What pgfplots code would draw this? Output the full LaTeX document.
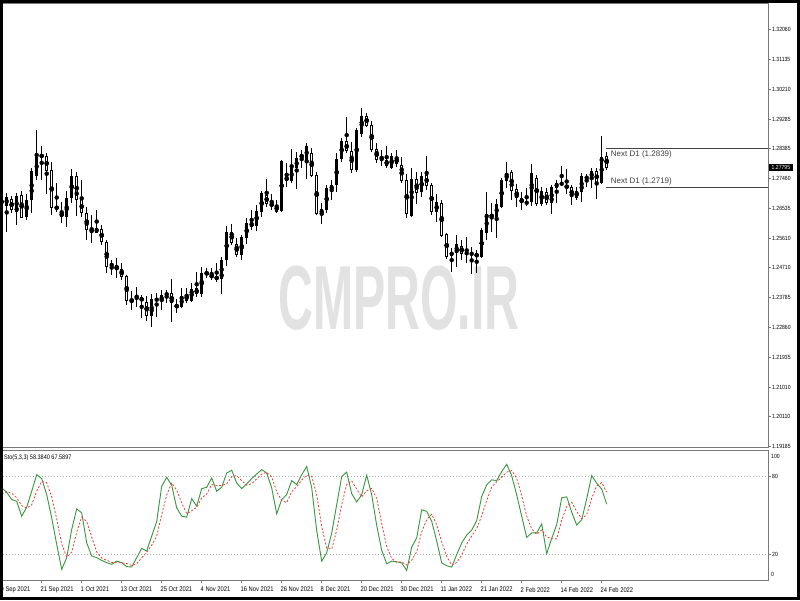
\documentclass[border=0pt]{standalone}
\usepackage{fontspec}
\setmainfont{Liberation Sans}
\newfontfamily\condfont{Liberation Sans}[FakeStretch=0.85]
\usepackage{graphicx}
\usepackage{pgfplots}
\usepackage{pgfplotstable}
\pgfplotsset{compat=1.18}

\definecolor{stogreen}{RGB}{56,150,60}
\definecolor{stored}{RGB}{232,60,60}
\definecolor{axgray}{RGB}{120,120,120}
\definecolor{lvlgray}{RGB}{175,175,175}
\definecolor{wmgray}{RGB}{226,226,226}

\pgfplotstableread{
k o h l c
0 1.2659 1.2695 1.2654 1.2687
1 1.2661 1.2700 1.2582 1.2690
2 1.2683 1.2693 1.2638 1.2647
3 1.2643 1.2700 1.2602 1.2693
4 1.2696 1.2708 1.2623 1.2625
5 1.2626 1.2698 1.2618 1.2681
6 1.2679 1.2777 1.2638 1.2770
7 1.2753 1.2895 1.2741 1.2813
8 1.2820 1.2847 1.2741 1.2811
9 1.2815 1.2823 1.2698 1.2770
10 1.2772 1.2796 1.2633 1.2654
11 1.2657 1.2731 1.2643 1.2654
12 1.2643 1.2674 1.2609 1.2626
13 1.2627 1.2708 1.2595 1.2687
14 1.2685 1.2774 1.2669 1.2753
15 1.2753 1.2767 1.2631 1.2679
16 1.2681 1.2741 1.2628 1.2638
17 1.2638 1.2657 1.2556 1.2587
18 1.2590 1.2633 1.2546 1.2579
19 1.2579 1.2649 1.2577 1.2593
20 1.2590 1.2602 1.2541 1.2551
21 1.2551 1.2556 1.2453 1.2474
22 1.2474 1.2494 1.2448 1.2484
23 1.2480 1.2500 1.2438 1.2463
24 1.2466 1.2484 1.2433 1.2443
25 1.2445 1.2448 1.2356 1.2369
26 1.2373 1.2400 1.2340 1.2364
27 1.2376 1.2412 1.2350 1.2379
28 1.2379 1.2386 1.2314 1.2367
29 1.2366 1.2383 1.2307 1.2320
30 1.2320 1.2389 1.2289 1.2373
31 1.2371 1.2394 1.2320 1.2373
32 1.2367 1.2402 1.2340 1.2386
33 1.2386 1.2402 1.2361 1.2392
34 1.2392 1.2435 1.2303 1.2361
35 1.2359 1.2373 1.2330 1.2345
36 1.2348 1.2409 1.2345 1.2384
37 1.2389 1.2407 1.2361 1.2368
38 1.2369 1.2424 1.2366 1.2405
39 1.2407 1.2458 1.2381 1.2389
40 1.2389 1.2474 1.2379 1.2455
41 1.2455 1.2469 1.2438 1.2451
42 1.2448 1.2469 1.2433 1.2441
43 1.2443 1.2484 1.2427 1.2435
44 1.2436 1.2505 1.2389 1.2494
45 1.2494 1.2599 1.2477 1.2582
46 1.2582 1.2605 1.2541 1.2548
47 1.2544 1.2561 1.2503 1.2510
48 1.2510 1.2571 1.2494 1.2564
49 1.2561 1.2623 1.2544 1.2609
50 1.2613 1.2649 1.2587 1.2595
51 1.2599 1.2664 1.2585 1.2646
52 1.2641 1.2708 1.2628 1.2700
53 1.2695 1.2744 1.2659 1.2667
54 1.2669 1.2698 1.2649 1.2661
55 1.2664 1.2679 1.2640 1.2643
56 1.2647 1.2803 1.2643 1.2800
57 1.2753 1.2795 1.2719 1.2738
58 1.2739 1.2836 1.2731 1.2777
59 1.2777 1.2829 1.2712 1.2808
60 1.2821 1.2834 1.2777 1.2808
61 1.2803 1.2854 1.2743 1.2847
62 1.2823 1.2839 1.2749 1.2753
63 1.2757 1.2767 1.2633 1.2635
64 1.2636 1.2669 1.2605 1.2651
65 1.2649 1.2726 1.2640 1.2715
66 1.2710 1.2741 1.2679 1.2726
67 1.2726 1.2823 1.2705 1.2805
68 1.2805 1.2870 1.2798 1.2862
69 1.2861 1.2936 1.2823 1.2829
70 1.2831 1.2857 1.2762 1.2772
71 1.2772 1.2903 1.2767 1.2895
72 1.2883 1.2962 1.2875 1.2940
73 1.2939 1.2947 1.2904 1.2909
74 1.2911 1.2924 1.2829 1.2834
75 1.2836 1.2854 1.2795 1.2803
76 1.2801 1.2834 1.2785 1.2811
77 1.2803 1.2846 1.2777 1.2785
78 1.2777 1.2823 1.2774 1.2815
79 1.2813 1.2834 1.2782 1.2789
80 1.2787 1.2813 1.2733 1.2738
81 1.2741 1.2760 1.2623 1.2635
82 1.2631 1.2779 1.2628 1.2744
83 1.2744 1.2767 1.2667 1.2702
84 1.2705 1.2767 1.2688 1.2753
85 1.2757 1.2815 1.2710 1.2723
86 1.2726 1.2733 1.2633 1.2643
87 1.2641 1.2698 1.2613 1.2674
88 1.2669 1.2681 1.2566 1.2568
89 1.2575 1.2579 1.2496 1.2505
90 1.2507 1.2530 1.2458 1.2520
91 1.2515 1.2571 1.2474 1.2544
92 1.2538 1.2556 1.2494 1.2513
93 1.2513 1.2564 1.2484 1.2517
94 1.2512 1.2535 1.2451 1.2515
95 1.2515 1.2525 1.2453 1.2503
96 1.2505 1.2592 1.2500 1.2587
97 1.2579 1.2703 1.2556 1.2635
98 1.2635 1.2669 1.2582 1.2626
99 1.2628 1.2681 1.2561 1.2667
100 1.2659 1.2748 1.2654 1.2741
101 1.2738 1.2798 1.2715 1.2764
102 1.2767 1.2772 1.2681 1.2708
103 1.2712 1.2728 1.2657 1.2685
104 1.2685 1.2705 1.2649 1.2669
105 1.2666 1.2715 1.2661 1.2676
106 1.2672 1.2789 1.2662 1.2762
107 1.2748 1.2757 1.2661 1.2667
108 1.2666 1.2719 1.2661 1.2707
109 1.2703 1.2715 1.2664 1.2669
110 1.2669 1.2726 1.2636 1.2719
111 1.2717 1.2741 1.2669 1.2733
112 1.2728 1.2784 1.2723 1.2731
113 1.2726 1.2775 1.2698 1.2715
114 1.2719 1.2726 1.2664 1.2688
115 1.2685 1.2719 1.2679 1.2708
116 1.2705 1.2762 1.2674 1.2753
117 1.2745 1.2760 1.2719 1.2751
118 1.2744 1.2777 1.2717 1.2770
119 1.2769 1.2777 1.2684 1.2733
120 1.2733 1.2877 1.2729 1.2813
121 1.2815 1.2829 1.2772 1.27795
}\candles

\pgfplotstableread{
k K D
0 70.8 66.0
1 67.5 68.0
2 61.9 66.7
3 60.6 63.3
4 49.1 57.2
5 56.0 55.2
6 68.3 57.8
7 81.0 68.4
8 78.0 75.8
9 65.7 74.9
10 47.8 63.8
11 27.4 47.0
12 8.2 27.8
13 17.2 17.6
14 38.9 21.4
15 54.7 36.9
16 51.7 48.4
17 28.7 45.0
18 18.5 33.0
19 17.2 21.5
20 15.1 16.9
21 13.3 15.2
22 12.1 13.5
23 14.6 13.3
24 13.3 13.3
25 10.3 12.7
26 10.0 11.2
27 17.2 12.5
28 24.3 17.2
29 22.3 21.3
30 33.8 26.8
31 45.0 33.7
32 72.1 50.3
33 79.0 65.4
34 72.9 74.7
35 55.5 69.1
36 49.1 59.2
37 48.3 51.0
38 62.6 53.3
39 56.8 55.9
40 70.3 63.2
41 71.3 66.1
42 78.5 73.4
43 68.3 72.7
44 71.3 72.7
45 82.3 74.0
46 84.4 79.3
47 74.6 80.4
48 70.3 76.4
49 73.9 72.9
50 78.0 74.1
51 81.5 77.8
52 84.9 81.5
53 82.3 82.9
54 70.8 79.3
55 50.9 68.0
56 61.9 61.2
57 65.7 59.5
58 76.4 68.0
59 73.4 71.8
60 81.0 76.9
61 87.4 80.6
62 71.0 79.8
63 38.0 65.5
64 14.5 41.2
65 21.0 24.5
66 36.0 23.8
67 58.0 38.3
68 79.6 57.9
69 83.0 73.5
70 66.5 76.4
71 60.0 69.8
72 65.5 64.0
73 80.6 68.7
74 65.5 70.5
75 42.0 62.7
76 22.8 43.4
77 12.5 25.8
78 14.5 16.6
79 14.0 13.7
80 13.2 13.9
81 7.3 11.5
82 25.3 15.3
83 32.4 21.7
84 54.0 37.2
85 52.8 46.4
86 45.1 50.6
87 30.0 42.6
88 13.2 29.4
89 11.0 18.1
90 9.9 11.4
91 19.6 13.5
92 28.5 19.3
93 34.6 27.6
94 38.4 33.8
95 45.7 39.6
96 64.3 49.5
97 73.2 61.1
98 77.0 71.5
99 76.5 75.6
100 83.4 79.0
101 89.0 83.0
102 80.2 84.2
103 65.5 78.2
104 49.0 64.9
105 32.8 49.1
106 36.2 39.3
107 36.2 35.1
108 43.2 38.5
109 20.2 33.2
110 32.0 31.8
111 42.6 31.6
112 63.2 45.9
113 64.0 56.6
114 52.2 59.8
115 42.3 52.8
116 46.4 47.0
117 62.4 50.4
118 80.3 63.0
119 74.5 72.4
120 69.9 74.9
121 58.384 67.5897
}\sto

\begin{document}
\begin{tikzpicture}
\fill[white] (0pt,0pt) rectangle (800pt,-600pt);
\path[use as bounding box] (0pt,0pt) rectangle (800pt,-600pt);
\node[text=wmgray, font=\fontsize{91}{91}\selectfont\bfseries, inner sep=0pt] at (399pt,-298pt) {\scalebox{0.53}[1]{CMPRO.IR}};

\begin{axis}[
  at={(0pt,-3pt)}, anchor=north west,
  scale only axis, width=768pt, height=444pt,
  xmin=-0.34, xmax=153.26,
  ymin=1.19174, ymax=1.32871,
  axis line style={draw=axgray, line width=0.8pt},
  xtick=\empty,
  ytick={1.32060,1.31135,1.30210,1.29285,1.28385,1.27460,1.26535,1.25610,1.24710,1.23785,1.22860,1.21935,1.21010,1.20110,1.19185},
  yticklabels={1.32060,1.31135,1.30210,1.29285,1.28385,1.27460,1.26535,1.25610,1.24710,1.23785,1.22860,1.21935,1.21010,1.20110,1.19185},
  ytick pos=right, yticklabel pos=right,
  tick align=outside, major tick length=3pt,
  tick style={draw=axgray, line width=0.6pt},
  yticklabel style={font=\condfont\fontsize{6}{7}\selectfont, anchor=west, inner sep=0pt, xshift=1pt},
]
\addplot[only marks, mark=none, error bars/.cd, y dir=both, y explicit, error mark=none,
  error bar style={line width=0.8pt, black}]
  table[x=k, y expr={(\thisrow{h}+\thisrow{l})/2}, y error expr={(\thisrow{h}-\thisrow{l})/2}] {\candles};
\addplot[only marks, mark=none, error bars/.cd, y dir=both, y explicit, error mark=none,
  error bar style={line width=3.4pt, black}]
  table[x=k, y expr={(\thisrow{o}+\thisrow{c})/2}, y error expr={max(abs(\thisrow{o}-\thisrow{c})/2,0.00016)}] {\candles};
\addplot[only marks, mark=none, error bars/.cd, y dir=both, y explicit, error mark=none,
  error bar style={line width=1.4pt, white}]
  table[x=k, y expr={\thisrow{c}<\thisrow{o} ? (\thisrow{o}+\thisrow{c})/2 : 1.1}, y error expr={max(abs(\thisrow{o}-\thisrow{c})/2-0.00031,0)}] {\candles};
\addplot[black!75, line width=0.8pt] coordinates {(120.86,1.2839) (153.26,1.2839)};
\addplot[black!75, line width=0.8pt] coordinates {(120.86,1.2719) (153.26,1.2719)};
\coordinate (nd1) at (axis cs:121.8,1.28145);
\coordinate (nd2) at (axis cs:121.8,1.27303);
\coordinate (pbox) at (axis cs:153.26,1.27795);
\end{axis}
\node[anchor=base west, inner sep=0pt, text=black!75, font=\fontsize{8}{9}\selectfont] at (nd1) {Next D1 (1.2839)};
\node[anchor=base west, inner sep=0pt, text=black!75, font=\fontsize{8}{9}\selectfont] at (nd2) {Next D1 (1.2719)};
\node[anchor=west, fill=black, text=white, inner xsep=2.5pt, inner ysep=1.3pt, font=\condfont\fontsize{6}{7}\selectfont] at ([xshift=1pt]pbox) {1.27795};

\begin{axis}[
  at={(0pt,-450pt)}, anchor=north west,
  scale only axis, width=768pt, height=130pt,
  xmin=-0.34, xmax=153.26, ymin=0, ymax=100,
  axis line style={draw=axgray, line width=0.8pt},
  xtick={-0.14,7.86,...,119.86},
  xticklabels={9 Sep 2021,21 Sep 2021,1 Oct 2021,13 Oct 2021,25 Oct 2021,4 Nov 2021,16 Nov 2021,26 Nov 2021,8 Dec 2021,20 Dec 2021,30 Dec 2021,11 Jan 2022,21 Jan 2022,2 Feb 2022,14 Feb 2022,24 Feb 2022},
  xtick pos=bottom,
  ytick={20,80}, yticklabels={20,80},
  ytick pos=right, yticklabel pos=right,
  tick align=outside, major tick length=3pt,
  tick style={draw=axgray, line width=0.6pt},
  xticklabel style={font=\condfont\fontsize{6.8}{7.5}\selectfont, anchor=north west, inner sep=0pt, xshift=-0.5pt, yshift=-4pt},
  yticklabel style={font=\condfont\fontsize{6}{7}\selectfont, anchor=west, inner sep=0pt, xshift=1pt},
]
\addplot[lvlgray, line width=0.6pt, dash pattern=on 1pt off 2pt] coordinates {(-0.34,80) (153.26,80)};
\addplot[lvlgray, line width=0.6pt, dash pattern=on 1pt off 2pt] coordinates {(-0.34,20) (153.26,20)};
\addplot[stogreen, line width=0.9pt] table[x=k, y=K] {\sto};
\addplot[stored, line width=0.8pt, dash pattern=on 2pt off 1.8pt] table[x=k, y=D] {\sto};
\coordinate (stol) at (rel axis cs:0,1);
\coordinate (s100) at (rel axis cs:1,1);
\coordinate (s0) at (rel axis cs:1,0);
\end{axis}
\node[anchor=north west, inner sep=0pt, font=\condfont\fontsize{6.5}{7.5}\selectfont] at ([xshift=4pt,yshift=-5pt]stol) {Sto(5,3,3) 58.3840 67.5897};
\node[anchor=west, inner sep=0pt, font=\condfont\fontsize{6}{7}\selectfont] at ([xshift=3pt,yshift=-6.5pt]s100) {100};
\node[anchor=west, inner sep=0pt, font=\condfont\fontsize{6}{7}\selectfont] at ([xshift=3pt,yshift=6pt]s0) {0};

\draw[black, line width=3pt] (1.5pt,-1.5pt) rectangle (798.5pt,-598.5pt);
\end{tikzpicture}
\end{document}
